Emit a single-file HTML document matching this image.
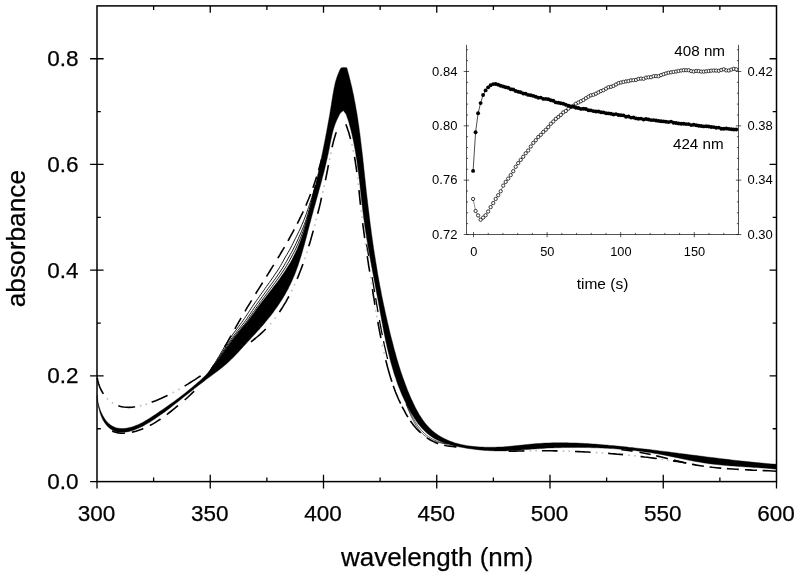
<!DOCTYPE html>
<html lang="en">
<head>
<meta charset="utf-8">
<title>Absorbance spectra</title>
<style>
html,body{margin:0;padding:0;background:#fff;}
body{width:800px;height:577px;overflow:hidden;font-family:"Liberation Sans",Arial,Helvetica,sans-serif;}
svg{display:block;}
</style>
</head>
<body>
<svg width="800" height="577" viewBox="0 0 800 577">
<rect width="800" height="577" fill="#fff"/>
<g id="spectra" fill="none" stroke="#000" stroke-linejoin="round">
<path d="M97.2,395.3L97.4,397.7L97.7,400.2L98.1,402.7L98.7,405.2L99.5,407.7L100.3,410.3L101.4,412.7L102.5,415.1L103.8,417.3L105.2,419.5L106.7,421.4L108.4,423.2L110.2,424.7L112.2,426.1L114.3,427.1L116.5,427.9L118.8,428.3L121.2,428.5L123.6,428.5L126.1,428.3L128.5,427.8L131.0,427.2L133.4,426.5L135.7,425.6L138.1,424.7L140.4,423.6L142.7,422.4L144.9,421.1L147.1,419.8L149.3,418.4L151.5,417.0L153.7,415.6L155.8,414.2L157.9,412.8L160.0,411.3L162.1,409.9L164.2,408.5L166.3,407.0L168.3,405.6L170.4,404.1L172.4,402.7L174.4,401.2L176.4,399.7L178.4,398.2L180.4,396.7L182.3,395.2L184.3,393.7L186.2,392.2L188.2,390.6L190.1,389.0L192.0,387.5L193.9,385.8L195.8,384.2L197.7,382.6L199.6,380.9L201.5,379.2L203.3,377.5L205.1,375.7L206.9,374.0L208.6,372.1L210.3,370.2L211.9,368.3L213.4,366.3L214.9,364.3L216.4,362.3L217.9,360.3L219.3,358.2L220.8,356.2L222.2,354.1L223.7,352.1L225.1,350.0L226.5,348.0L228.0,345.9L229.5,343.9L230.9,341.9L232.4,339.8L234.0,337.8L235.5,335.9L237.1,333.9L238.7,332.0L240.3,330.1L241.9,328.1L243.5,326.2L245.1,324.3L246.7,322.4L248.2,320.4L249.7,318.4L251.2,316.4L252.7,314.4L254.2,312.4L255.6,310.4L257.1,308.3L258.6,306.3L260.1,304.3L261.7,302.3L263.2,300.3L264.8,298.3L266.3,296.3L267.9,294.3L269.4,292.3L271.0,290.3L272.5,288.3L274.0,286.3L275.6,284.3L277.1,282.3L278.6,280.2L280.1,278.2L281.5,276.1L283.0,274.1L284.4,272.0L285.7,269.9L287.1,267.8L288.4,265.7L289.7,263.5L291.0,261.4L292.2,259.2L293.3,257.0L294.4,254.7L295.5,252.5L296.6,250.2L297.6,248.0L298.5,245.7L299.5,243.3L300.4,241.0L301.2,238.7L302.0,236.3L302.9,233.9L303.6,231.6L304.4,229.2L305.1,226.8L305.8,224.3L306.5,221.9L307.2,219.5L307.8,217.1L308.5,214.6L309.1,212.2L309.7,209.7L310.3,207.3L310.9,204.8L311.5,202.4L312.1,199.9L312.6,197.5L313.2,195.0L313.8,192.6L314.3,190.1L314.9,187.7L315.5,185.2L316.0,182.8L316.6,180.3L317.1,177.9L317.6,175.4L318.2,173.0L318.7,170.5L319.2,168.1L319.8,165.6L320.3,163.2L320.8,160.7L321.3,158.3L321.8,155.8L322.3,153.4L322.8,150.9L323.3,148.5L323.8,146.0L324.3,143.6L324.8,141.1L325.3,138.6L325.7,136.2L326.2,133.7L326.7,131.2L327.1,128.8L327.6,126.3L328.0,123.8L328.5,121.3L328.9,118.9L329.4,116.4L329.8,113.9L330.2,111.4L330.6,109.0L331.0,106.5L331.4,104.0L331.8,101.5L332.2,99.0L332.6,96.6L333.0,94.1L333.5,91.6L333.9,89.1L334.4,86.7L334.9,84.3L335.5,81.8L336.2,79.4L337.0,77.1L337.8,74.7L338.8,72.4L339.8,70.1L341.0,67.9L343.7,67.4L346.8,67.8L347.5,70.2L348.1,72.6L348.8,75.0L349.4,77.4L350.0,79.8L350.6,82.3L351.2,84.7L351.8,87.1L352.3,89.6L352.8,92.0L353.4,94.5L353.9,96.9L354.3,99.4L354.8,101.8L355.3,104.3L355.7,106.7L356.1,109.2L356.6,111.6L357.0,114.1L357.4,116.6L357.8,119.1L358.1,121.5L358.5,124.0L358.9,126.5L359.2,129.0L359.5,131.4L359.9,133.9L360.2,136.4L360.5,138.9L360.8,141.4L361.1,143.9L361.4,146.4L361.7,148.9L362.0,151.3L362.3,153.8L362.6,156.3L362.9,158.8L363.1,161.3L363.4,163.8L363.7,166.3L363.9,168.8L364.2,171.3L364.5,173.8L364.7,176.3L365.0,178.8L365.3,181.3L365.5,183.8L365.8,186.3L366.1,188.7L366.3,191.2L366.6,193.7L366.9,196.2L367.2,198.7L367.5,201.2L367.8,203.7L368.1,206.2L368.4,208.7L368.7,211.1L369.0,213.6L369.3,216.1L369.6,218.6L369.9,221.1L370.2,223.6L370.5,226.0L370.9,228.5L371.2,231.0L371.5,233.5L371.9,236.0L372.2,238.4L372.6,240.9L372.9,243.4L373.3,245.9L373.6,248.3L374.0,250.8L374.4,253.3L374.8,255.8L375.2,258.2L375.6,260.7L376.0,263.2L376.4,265.6L376.8,268.1L377.2,270.6L377.6,273.0L378.0,275.5L378.5,278.0L378.9,280.4L379.4,282.9L379.8,285.4L380.3,287.8L380.8,290.3L381.2,292.8L381.7,295.2L382.2,297.7L382.7,300.1L383.2,302.6L383.7,305.0L384.3,307.5L384.8,310.0L385.3,312.4L385.9,314.9L386.4,317.3L387.0,319.7L387.5,322.2L388.1,324.6L388.7,327.1L389.2,329.5L389.8,331.9L390.4,334.4L391.0,336.8L391.6,339.2L392.3,341.6L392.9,344.0L393.5,346.4L394.1,348.8L394.8,351.2L395.5,353.6L396.1,356.0L396.8,358.4L397.5,360.8L398.2,363.2L398.9,365.6L399.7,367.9L400.4,370.3L401.2,372.7L402.0,375.0L402.8,377.4L403.7,379.8L404.5,382.1L405.4,384.5L406.3,386.8L407.2,389.2L408.1,391.5L409.1,393.8L410.1,396.2L411.1,398.5L412.2,400.8L413.3,403.2L414.4,405.5L415.5,407.8L416.7,410.0L418.0,412.3L419.2,414.5L420.6,416.6L422.0,418.7L423.4,420.8L424.9,422.8L426.5,424.7L428.1,426.5L429.8,428.3L431.5,430.0L433.4,431.6L435.3,433.1L437.3,434.5L439.3,435.8L441.4,437.1L443.6,438.2L445.8,439.3L448.0,440.3L450.3,441.3L452.7,442.1L455.0,442.9L457.5,443.6L459.9,444.2L462.3,444.7L464.8,445.2L467.3,445.7L469.8,446.0L472.3,446.3L474.9,446.6L477.4,446.8L479.9,447.0L482.5,447.1L485.0,447.2L487.5,447.2L490.0,447.3L492.5,447.2L495.0,447.2L497.5,447.1L500.0,447.0L502.5,446.9L505.0,446.7L507.5,446.5L510.0,446.3L512.5,446.1L515.0,445.8L517.4,445.6L519.9,445.3L522.4,445.0L524.9,444.7L527.4,444.5L529.9,444.2L532.3,444.0L534.8,443.7L537.3,443.6L539.8,443.4L542.3,443.2L544.8,443.1L547.3,443.0L549.8,442.9L552.3,442.8L554.8,442.8L557.3,442.8L559.8,442.8L562.3,442.8L564.8,442.8L567.3,442.8L569.8,442.9L572.3,442.9L574.8,443.0L577.3,443.1L579.8,443.2L582.3,443.3L584.8,443.5L587.3,443.6L589.8,443.8L592.3,444.0L594.8,444.1L597.3,444.3L599.8,444.5L602.3,444.7L604.8,444.9L607.3,445.1L609.8,445.4L612.3,445.6L614.8,445.8L617.3,446.1L619.8,446.3L622.3,446.6L624.8,446.8L627.3,447.1L629.8,447.4L632.2,447.6L634.7,447.9L637.2,448.2L639.7,448.5L642.2,448.8L644.7,449.1L647.2,449.3L649.7,449.6L652.2,449.9L654.6,450.2L657.1,450.5L659.6,450.9L662.1,451.2L664.6,451.5L667.1,451.8L669.5,452.1L672.0,452.4L674.5,452.7L677.0,453.1L679.5,453.4L682.0,453.7L684.4,454.0L686.9,454.3L689.4,454.7L691.9,455.0L694.4,455.3L696.9,455.6L699.3,455.9L701.8,456.2L704.3,456.6L706.8,456.9L709.3,457.2L711.8,457.5L714.2,457.8L716.7,458.1L719.2,458.4L721.7,458.7L724.2,459.0L726.7,459.3L729.2,459.6L731.6,459.9L734.1,460.2L736.6,460.5L739.1,460.7L741.6,461.0L744.1,461.3L746.6,461.5L749.1,461.8L751.6,462.1L754.1,462.3L756.5,462.6L759.0,462.8L761.5,463.0L764.0,463.3L766.5,463.5L769.0,463.7L771.5,463.9L774.0,464.1L776.5,464.3L776.5,469.2L774.0,468.9L771.5,468.7L769.0,468.5L766.5,468.3L764.0,468.1L761.5,467.9L759.0,467.7L756.5,467.5L754.0,467.4L751.5,467.2L749.0,467.1L746.5,466.9L744.0,466.8L741.5,466.6L739.0,466.4L736.5,466.3L734.0,466.1L731.5,465.9L729.0,465.7L726.5,465.5L724.0,465.3L721.5,465.1L719.0,464.8L716.5,464.6L714.0,464.3L711.5,464.0L709.1,463.7L706.6,463.3L704.1,462.9L701.6,462.5L699.2,462.1L696.7,461.7L694.2,461.2L691.8,460.8L689.3,460.3L686.9,459.8L684.4,459.3L682.0,458.8L679.5,458.2L677.1,457.7L674.6,457.2L672.1,456.7L669.7,456.2L667.2,455.7L664.8,455.2L662.3,454.7L659.9,454.3L657.4,453.8L654.9,453.4L652.5,453.0L650.0,452.6L647.5,452.3L645.0,451.9L642.6,451.6L640.1,451.2L637.6,450.9L635.1,450.6L632.6,450.4L630.1,450.1L627.6,449.9L625.2,449.6L622.7,449.4L620.2,449.2L617.7,449.0L615.2,448.8L612.7,448.6L610.2,448.5L607.7,448.3L605.2,448.2L602.7,448.1L600.2,447.9L597.7,447.8L595.1,447.8L592.6,447.7L590.1,447.6L587.6,447.6L585.1,447.5L582.6,447.5L580.1,447.4L577.6,447.4L575.1,447.4L572.6,447.4L570.1,447.5L567.6,447.5L565.1,447.5L562.5,447.6L560.0,447.7L557.5,447.7L555.0,447.8L552.5,447.9L550.0,448.0L547.5,448.1L545.0,448.3L542.5,448.4L540.0,448.6L537.5,448.7L535.0,448.9L532.6,449.1L530.1,449.3L527.6,449.4L525.1,449.6L522.6,449.8L520.1,450.0L517.6,450.2L515.1,450.4L512.7,450.5L510.2,450.7L507.7,450.8L505.2,450.9L502.7,450.9L500.2,450.9L497.7,450.9L495.2,450.9L492.7,450.8L490.2,450.7L487.7,450.6L485.2,450.4L482.7,450.2L480.2,450.0L477.7,449.7L475.2,449.4L472.7,449.1L470.2,448.8L467.7,448.4L465.2,448.0L462.7,447.5L460.1,447.1L457.6,446.6L455.1,446.0L452.6,445.4L450.2,444.8L447.7,444.1L445.3,443.3L442.9,442.4L440.6,441.5L438.4,440.5L436.1,439.4L434.0,438.2L431.9,436.9L429.9,435.6L428.0,434.1L426.2,432.5L424.4,430.8L422.7,429.0L421.0,427.2L419.5,425.3L417.9,423.4L416.4,421.3L415.0,419.3L413.7,417.2L412.3,415.0L411.0,412.9L409.8,410.7L408.6,408.5L407.4,406.3L406.3,404.0L405.2,401.8L404.1,399.5L403.1,397.2L402.0,394.9L401.1,392.7L400.1,390.3L399.2,388.0L398.3,385.7L397.4,383.4L396.6,381.0L395.8,378.6L395.0,376.3L394.2,373.9L393.5,371.5L392.8,369.1L392.1,366.7L391.4,364.3L390.7,361.9L390.1,359.5L389.5,357.0L388.9,354.6L388.3,352.2L387.7,349.7L387.1,347.3L386.6,344.8L386.0,342.4L385.5,339.9L385.0,337.4L384.5,335.0L384.0,332.5L383.5,330.0L383.0,327.5L382.6,325.1L382.1,322.6L381.6,320.1L381.2,317.6L380.7,315.1L380.3,312.7L379.8,310.2L379.4,307.7L378.9,305.2L378.5,302.8L378.0,300.3L377.6,297.8L377.1,295.4L376.6,292.9L376.2,290.4L375.7,288.0L375.2,285.5L374.8,283.0L374.3,280.6L373.8,278.1L373.4,275.7L372.9,273.2L372.4,270.8L372.0,268.3L371.5,265.9L371.1,263.4L370.6,261.0L370.2,258.5L369.7,256.0L369.3,253.6L368.8,251.1L368.4,248.7L368.0,246.2L367.6,243.8L367.2,241.3L366.7,238.8L366.4,236.4L366.0,233.9L365.6,231.4L365.2,229.0L364.8,226.5L364.5,224.0L364.2,221.6L363.8,219.1L363.5,216.6L363.2,214.1L362.9,211.6L362.6,209.1L362.3,206.6L362.0,204.1L361.7,201.6L361.4,199.1L361.2,196.6L360.9,194.1L360.6,191.6L360.3,189.1L360.1,186.6L359.8,184.1L359.5,181.6L359.2,179.1L358.9,176.6L358.6,174.1L358.3,171.6L358.0,169.2L357.6,166.7L357.3,164.2L357.0,161.7L356.6,159.2L356.2,156.7L355.8,154.3L355.4,151.8L355.0,149.3L354.5,146.9L354.1,144.4L353.6,142.0L353.1,139.5L352.5,137.1L352.0,134.6L351.4,132.2L350.8,129.8L350.2,127.4L349.5,125.0L348.9,122.5L348.2,120.2L346.0,114.0L343.2,110.5L340.0,113.5L336.8,120.1L335.8,122.5L334.9,124.8L334.1,127.2L333.4,129.6L332.7,132.0L332.1,134.5L331.6,136.9L331.0,139.4L330.5,141.9L330.0,144.3L329.6,146.8L329.1,149.3L328.6,151.8L328.1,154.2L327.5,156.7L327.0,159.2L326.4,161.6L325.9,164.1L325.3,166.5L324.7,168.9L324.1,171.4L323.5,173.8L322.8,176.2L322.2,178.6L321.6,181.1L320.9,183.5L320.3,185.9L319.6,188.3L318.9,190.7L318.3,193.1L317.6,195.6L316.9,198.0L316.2,200.4L315.6,202.8L314.9,205.2L314.2,207.6L313.5,210.0L312.9,212.5L312.2,214.9L311.6,217.3L310.9,219.8L310.3,222.2L309.6,224.6L309.0,227.1L308.3,229.5L307.7,232.0L307.1,234.4L306.4,236.9L305.8,239.3L305.1,241.7L304.5,244.2L303.8,246.6L303.1,249.0L302.4,251.5L301.7,253.9L301.0,256.3L300.2,258.7L299.5,261.1L298.7,263.5L297.9,265.9L297.0,268.2L296.2,270.6L295.3,272.9L294.4,275.2L293.4,277.5L292.4,279.8L291.4,282.1L290.3,284.4L289.2,286.6L288.1,288.9L286.9,291.1L285.7,293.2L284.5,295.4L283.2,297.6L281.9,299.7L280.5,301.8L279.1,303.9L277.7,306.0L276.3,308.1L274.8,310.1L273.3,312.2L271.8,314.2L270.3,316.2L268.7,318.1L267.1,320.1L265.5,322.0L263.9,324.0L262.2,325.9L260.6,327.8L258.9,329.7L257.2,331.5L255.5,333.4L253.8,335.3L252.1,337.1L250.4,339.0L248.7,340.8L247.0,342.6L245.3,344.5L243.6,346.3L241.9,348.2L240.2,350.0L238.5,351.9L236.8,353.7L235.1,355.5L233.4,357.3L231.6,359.1L229.8,360.8L228.0,362.5L226.1,364.2L224.2,365.8L222.2,367.4L220.3,369.0L218.3,370.5L216.3,372.1L214.2,373.6L212.2,375.1L210.2,376.6L208.1,378.1L206.1,379.6L204.1,381.2L202.1,382.7L200.1,384.2L198.1,385.7L196.1,387.3L194.2,388.8L192.2,390.4L190.3,391.9L188.3,393.5L186.4,395.0L184.4,396.6L182.5,398.1L180.5,399.7L178.6,401.2L176.6,402.8L174.6,404.3L172.7,405.8L170.7,407.4L168.7,408.9L166.7,410.4L164.7,411.9L162.6,413.4L160.6,414.8L158.5,416.3L156.4,417.7L154.3,419.2L152.1,420.6L150.0,422.0L147.8,423.3L145.5,424.6L143.3,425.9L141.0,427.0L138.7,428.1L136.4,429.1L134.0,430.0L131.6,430.7L129.2,431.4L126.7,431.9L124.2,432.2L121.8,432.3L119.3,432.2L117.0,431.9L114.7,431.2L112.6,430.3L110.6,429.0L108.7,427.5L107.0,425.8L105.4,423.8L104.0,421.7L102.7,419.4L101.6,417.0L100.6,414.5L99.8,411.9L99.1,409.3L98.4,406.8L97.9,404.3L97.5,402.0L97.1,399.7Z" fill="#000" stroke="#000" stroke-width="0.4"/>
<path d="M210.0,370.2L211.4,368.3L212.7,366.3L214.0,364.3L215.3,362.3L216.5,360.3L217.7,358.2L219.0,356.2L220.2,354.1L221.4,352.1L222.6,350.0L223.8,348.0L225.0,345.9L226.3,343.9L227.6,341.9L229.0,339.8L230.3,337.8L231.7,335.9L233.1,333.9L234.5,332.0L236.0,330.1L237.5,328.1L238.9,326.2L240.3,324.3L241.7,322.4L243.1,320.4L244.5,318.4L245.8,316.4L247.2,314.4L248.5,312.4L249.8,310.4L251.2,308.3L252.5,306.3L253.9,304.3L255.3,302.3L256.7,300.3L258.1,298.3L259.5,296.3L260.9,294.3L262.4,292.3L263.8,290.3L265.2,288.3L266.6,286.3L268.0,284.3L269.5,282.3L271.0,280.2L272.4,278.2L273.8,276.1L275.2,274.1L276.6,272.0L278.0,269.9L279.3,267.8L280.6,265.7L281.8,263.5L283.0,261.4L284.2,259.2L285.4,257.0L286.8,254.7L288.1,252.5L289.4,250.2L290.6,248.0L291.8,245.7L293.0,243.3L294.1,241.0L295.3,238.7L296.5,236.3L297.7,233.9L298.8,231.6L300.0,229.2L301.1,226.8L302.1,224.3L303.2,221.9L304.2,219.5L305.1,217.1L306.0,214.6L306.9,212.2L307.7,209.7L308.6,207.3L309.4,204.8L310.2,202.4L311.1,199.9L311.8,197.5L312.5,195.0L313.3,192.6L314.0,190.1L314.7,187.7L315.4,185.2" stroke-width="0.9"/>
<path d="M210.2,370.2L211.6,368.3L213.1,366.3L214.5,364.3L215.9,362.3L217.2,360.3L218.5,358.2L219.9,356.2L221.2,354.1L222.5,352.1L223.8,350.0L225.2,348.0L226.5,345.9L227.9,343.9L229.3,341.9L230.7,339.8L232.1,337.8L233.6,335.9L235.1,333.9L236.6,332.0L238.1,330.1L239.7,328.1L241.2,326.2L242.7,324.3L244.2,322.4L245.7,320.4L247.1,318.4L248.4,316.4L249.8,314.4L251.2,312.4L252.5,310.4L253.9,308.3L255.3,306.3L256.7,304.3L258.2,302.3L259.6,300.3L261.0,298.3L262.5,296.3L263.9,294.3L265.4,292.3L266.8,290.3L268.3,288.3L269.7,286.3L271.2,284.3L272.7,282.3L274.2,280.2L275.7,278.2L277.1,276.1L278.5,274.1L279.9,272.0L281.3,269.9L282.7,267.8L284.0,265.7L285.2,263.5L286.5,261.4L287.7,259.2L288.9,257.0L290.2,254.7L291.5,252.5L292.7,250.2L293.8,248.0L295.0,245.7L296.1,243.3L297.2,241.0L298.3,238.7L299.3,236.3L300.4,233.9L301.4,231.6L302.4,229.2L303.4,226.8L304.4,224.3L305.3,221.9L306.2,219.5L306.9,217.1L307.7,214.6L308.4,212.2L309.1,209.7L309.8,207.3L310.5,204.8L311.2,202.4L311.9,199.9L312.5,197.5L313.1,195.0L313.7,192.6L314.3,190.1L314.9,187.7L315.4,185.2" stroke-width="0.9"/>
<path d="M210.3,370.2L211.8,368.3L213.4,366.3L214.9,364.3L216.3,362.3L217.7,360.3L219.2,358.2L220.6,356.2L222.0,354.1L223.4,352.1L224.8,350.0L226.2,348.0L227.7,345.9L229.1,343.9L230.5,341.9L232.0,339.8L233.5,337.8L235.0,335.9L236.6,333.9L238.1,332.0L239.7,330.1L241.3,328.1L242.9,326.2L244.5,324.3L246.0,322.4L247.5,320.4L248.9,318.4L250.3,316.4L251.7,314.4L253.1,312.4L254.6,310.4L256.0,308.3L257.4,306.3L258.9,304.3L260.3,302.3L261.8,300.3L263.3,298.3L264.8,296.3L266.3,294.3L267.8,292.3L269.2,290.3L270.7,288.3L272.2,286.3L273.7,284.3L275.2,282.3L276.7,280.2L278.2,278.2L279.6,276.1L281.0,274.1L282.4,272.0L283.8,269.9L285.2,267.8L286.5,265.7L287.7,263.5L289.0,261.4L290.2,259.2L291.4,257.0L292.6,254.7L293.8,252.5L295.0,250.2L296.1,248.0L297.1,245.7L298.2,243.3L299.2,241.0L300.2,238.7L301.1,236.3L302.0,233.9L302.9,231.6L303.8,229.2L304.6,226.8L305.4,224.3L306.2,221.9L307.0,219.5L307.7,217.1L308.3,214.6L309.0,212.2L309.6,209.7L310.2,207.3L310.8,204.8L311.4,202.4L312.1,199.9L312.6,197.5L313.2,195.0L313.8,192.6L314.3,190.1L314.9,187.7L315.5,185.2" stroke-width="0.9"/>
<path d="M406.2,404.0L407.2,406.4L408.3,408.7L409.4,411.0L410.5,413.3L411.6,415.6L412.8,417.8L414.1,420.0L415.4,422.1L416.7,424.2L418.2,426.3L419.7,428.2L421.2,430.1L422.9,431.9L424.7,433.6L426.5,435.2L428.5,436.7L430.5,438.0L432.7,439.2L435.0,440.3L437.3,441.3L439.8,442.1L442.4,442.9L445.0,443.5L447.7,444.1" stroke-width="0.6"/>
<path d="M406.2,404.1L407.1,406.5L408.0,408.9L409.0,411.3L410.0,413.6L411.0,416.0L412.1,418.3L413.3,420.6L414.5,422.8L415.7,425.0L417.1,427.1L418.5,429.1L420.0,431.0L421.7,432.9L423.4,434.6L425.2,436.1L427.2,437.6L429.3,438.9L431.6,440.1L434.0,441.1L436.5,441.9L439.2,442.6L441.9,443.2L444.7,443.7L447.7,444.1" stroke-width="0.6"/>
<path d="M97.1,399.9L97.5,402.5L98.1,405.4L98.8,408.4L99.6,411.5L100.6,414.7L101.7,417.8L103.0,420.8L104.6,423.6L106.3,426.2L108.3,428.3L110.5,430.1L112.9,431.4L115.5,432.3L118.3,432.9L121.2,433.2L124.1,433.2L127.1,433.0L130.1,432.5L133.0,431.9L135.9,431.2L138.8,430.3L141.6,429.3L144.4,428.1L147.2,426.9L149.8,425.5L152.5,424.1L155.1,422.6L157.7,420.9L160.3,419.3L162.8,417.5L165.2,415.7L167.7,413.9L170.1,412.0L172.5,410.1L174.9,408.2L177.3,406.2L179.6,404.3L181.9,402.4L184.2,400.4L186.4,398.5L188.6,396.5L190.8,394.4L192.9,392.4L195.0,390.3L197.1,388.1L199.0,385.9L201.0,383.7L202.8,381.3L204.7,378.9L206.4,376.5L208.2,374.0L209.8,371.5L211.5,369.0L213.1,366.4L214.7,363.8L216.3,361.2L217.9,358.6L219.4,356.0L220.9,353.4L222.5,350.8L224.0,348.1L225.5,345.5L227.0,342.9L228.4,340.3L229.9,337.7L231.4,335.0L232.9,332.4L234.4,329.8L235.8,327.2L237.3,324.6L238.8,321.9L240.3,319.3L241.8,316.7L243.3,314.1L244.9,311.5L246.4,308.9L247.9,306.4L249.5,303.8L251.1,301.2L252.6,298.6L254.2,296.1L255.8,293.5L257.4,290.9L259.0,288.4L260.6,285.8L262.2,283.3L263.8,280.7L265.4,278.2L267.0,275.6L268.6,273.1L270.2,270.5L271.8,267.9L273.4,265.4L275.0,262.8L276.5,260.2L278.1,257.7L279.7,255.1L281.2,252.5L282.8,249.9L284.3,247.3L285.8,244.7L287.3,242.1L288.8,239.5L290.2,236.9L291.7,234.2L293.1,231.6L294.5,228.9L295.9,226.3L297.3,223.6L298.7,220.9L300.0,218.2L301.3,215.5L302.6,212.8L303.8,210.1L305.1,207.3L306.3,204.6L307.4,201.8L308.6,199.0L309.7,196.2L310.8,193.4L311.9,190.6L312.9,187.8L313.9,185.0L314.9,182.1L315.8,179.3L316.8,176.4L317.6,173.6L318.5,170.7L319.3,167.8L320.1,164.9L320.9,161.9L321.6,159.0L322.3,156.1L323.0,153.2L323.7,150.2L324.4,147.3L325.0,144.3L325.7,141.4L326.3,138.4L326.9,135.5L327.5,132.5L328.1,129.5L328.7,126.6L329.3,123.6L329.9,120.6L330.4,117.7L331.0,114.7L331.6,111.8L332.2,108.8L332.8,105.9L333.4,102.9L334.0,100.0" stroke-width="1.6" stroke-dasharray="0.0 35.8 13.0 7.1 12.0 7.2 12.6 7.6 14.3 8.8 12.9 14.9 18.0 20.9 13.2 7.8 12.4 7.8 12.7 7.8 13.2 7.2 13.6 7.9 12.9 7.1 13.1 6.5 13.7 6.4 12.5 6.6 11.8 6.7 11.1 110.8"/>
<path d="M366.5,244.1L367.0,247.0L367.5,249.9L368.1,252.9L368.6,255.8L369.1,258.8L369.6,261.7L370.1,264.7L370.6,267.6L371.1,270.6L371.6,273.5L372.0,276.5L372.5,279.5L373.0,282.4L373.5,285.4L374.0,288.3L374.5,291.3L375.0,294.2L375.5,297.2L376.0,300.2L376.5,303.1L377.0,306.1L377.5,309.0L378.0,312.0L378.5,314.9L379.0,317.9L379.6,320.8L380.1,323.8L380.7,326.7L381.2,329.7L381.8,332.6L382.4,335.6L383.0,338.5L383.6,341.4L384.2,344.4L384.9,347.3L385.5,350.2L386.2,353.2L386.9,356.1L387.6,359.0" stroke-width="1.3" stroke-dasharray="12.0 21.5 15.2 6.0 14.2 8.1 15.4 6.1 18.4 50.0"/>
<path d="M610.0,448.9L614.0,449.1L618.0,449.4L622.0,449.8L626.0,450.2L630.0,450.7L633.9,451.3L637.9,452.0L641.8,452.7L645.8,453.5L649.7,454.3L653.6,455.2L657.5,456.1L661.4,457.0L665.3,458.0L669.2,459.0L673.1,459.9L677.0,460.9L680.9,461.8L684.8,462.7L688.7,463.6L692.7,464.4L696.6,465.1L700.5,465.7L704.5,466.3L708.5,466.8L712.4,467.3L716.4,467.7L720.4,468.1L724.4,468.4L728.4,468.7L732.4,469.0L736.4,469.3L740.4,469.5L744.4,469.7L748.4,469.9L752.4,470.1L756.5,470.2L760.5,470.4L764.5,470.6L768.5,470.8L772.5,471.0L776.5,471.2" stroke-width="1.6" stroke-dasharray="0.0 11.4 11.3 7.0 11.4 5.7 12.0 6.3 12.7 5.8 12.0 5.7 11.8 5.7 11.9 6.2 12.0 5.6 14.0 50.0"/>
<path d="M97.2,377.6L97.8,380.7L98.6,383.7L99.6,386.6L100.9,389.5L102.4,392.3L104.1,394.9L106.0,397.3L108.0,399.5L110.3,401.4L112.7,403.1L115.2,404.5L117.8,405.6L120.6,406.5L123.4,407.0L126.2,407.3L129.1,407.4L132.1,407.2L135.0,406.8L138.0,406.3L141.0,405.6L144.0,404.8L147.0,403.9L149.9,402.9L152.8,401.8L155.7,400.7L158.6,399.5L161.4,398.3L164.1,397.0L166.9,395.7L169.6,394.4L172.2,393.0L174.9,391.6L177.5,390.1L180.1,388.7L182.7,387.1L185.3,385.6L187.8,384.1L190.3,382.5L192.9,380.9L195.4,379.3L197.9,377.6L200.4,376.0L202.9,374.3L205.4,372.7L207.8,371.0L210.3,369.3L212.8,367.6L215.3,365.9L217.8,364.3L220.3,362.6L222.9,360.9L225.4,359.3L228.0,357.6L230.5,356.0L233.0,354.3L235.6,352.6L238.1,350.9L240.6,349.2L243.1,347.5L245.6,345.8L248.1,344.0L250.5,342.2L252.9,340.3L255.2,338.5L257.6,336.5L259.8,334.6L262.0,332.6L264.2,330.5L266.3,328.4L268.4,326.2L270.4,323.9L272.3,321.6L274.2,319.3L276.0,316.9L277.8,314.5L279.5,312.0L281.1,309.5L282.8,306.9L284.3,304.4L285.9,301.8L287.3,299.1L288.8,296.5L290.2,293.8L291.5,291.1L292.8,288.4L294.1,285.7L295.4,282.9L296.6,280.1L297.8,277.4L298.9,274.6L300.0,271.8L301.1,269.0L302.2,266.1L303.2,263.3L304.2,260.5L305.2,257.6L306.1,254.7L307.0,251.9L307.9,249.0L308.8,246.1L309.7,243.2L310.6,240.3L311.4,237.4L312.2,234.5L313.0,231.6L313.8,228.7L314.6,225.8L315.4,222.9L316.1,220.0L316.9,217.1L317.6,214.1L318.3,211.2L319.1,208.3L319.8,205.4L320.5,202.5L321.1,199.5L321.8,196.6L322.5,193.7L323.1,190.7L323.8,187.8L324.4,184.8L325.0,181.9L325.7,179.0L326.3,176.0L326.9,173.0L327.5,170.1L328.0,167.1L328.6,164.1L329.2,161.2L329.8,158.2L330.4,155.2L331.0,152.2L331.6,149.3L332.3,146.3L333.0,143.4L333.7,140.5L334.6,137.6L335.4,134.7L336.4,131.9L337.5,129.1L338.6,126.4L339.9,123.6L341.2,121.0L342.7,118.3" stroke-width="1.6" stroke-dasharray="0.0 0.2 17.3 19.5 17.0 17.2 17.3 19.5 19.0 60.7 19.6 21.8 18.3 19.4 15.9 18.7 16.3 17.4 16.5 17.9 15.5 18.2 15.6 65.3"/>
<path d="M97.2,377.6L97.8,380.7L98.6,383.7L99.6,386.6L100.9,389.5L102.4,392.3L104.1,394.9L106.0,397.3L108.0,399.5L110.3,401.4L112.7,403.1L115.2,404.5L117.8,405.6L120.6,406.5L123.4,407.0L126.2,407.3L129.1,407.4L132.1,407.2L135.0,406.8L138.0,406.3L141.0,405.6L144.0,404.8L147.0,403.9L149.9,402.9L152.8,401.8L155.7,400.7L158.6,399.5L161.4,398.3L164.1,397.0L166.9,395.7L169.6,394.4L172.2,393.0L174.9,391.6L177.5,390.1L180.1,388.7L182.7,387.1L185.3,385.6L187.8,384.1L190.3,382.5L192.9,380.9L195.4,379.3L197.9,377.6L200.4,376.0L202.9,374.3L205.4,372.7L207.8,371.0L210.3,369.3L212.8,367.6L215.3,365.9L217.8,364.3L220.3,362.6L222.9,360.9L225.4,359.3L228.0,357.6L230.5,356.0L233.0,354.3L235.6,352.6L238.1,350.9L240.6,349.2L243.1,347.5L245.6,345.8L248.1,344.0L250.5,342.2L252.9,340.3L255.2,338.5L257.6,336.5L259.8,334.6L262.0,332.6L264.2,330.5L266.3,328.4L268.4,326.2L270.4,323.9L272.3,321.6L274.2,319.3L276.0,316.9L277.8,314.5L279.5,312.0L281.1,309.5L282.8,306.9L284.3,304.4L285.9,301.8L287.3,299.1L288.8,296.5L290.2,293.8L291.5,291.1L292.8,288.4L294.1,285.7L295.4,282.9L296.6,280.1L297.8,277.4L298.9,274.6L300.0,271.8L301.1,269.0L302.2,266.1L303.2,263.3L304.2,260.5L305.2,257.6L306.1,254.7L307.0,251.9L307.9,249.0L308.8,246.1L309.7,243.2L310.6,240.3L311.4,237.4L312.2,234.5L313.0,231.6L313.8,228.7L314.6,225.8L315.4,222.9L316.1,220.0L316.9,217.1L317.6,214.1L318.3,211.2L319.1,208.3L319.8,205.4L320.5,202.5L321.1,199.5L321.8,196.6L322.5,193.7L323.1,190.7L323.8,187.8L324.4,184.8L325.0,181.9L325.7,179.0L326.3,176.0L326.9,173.0L327.5,170.1L328.0,167.1L328.6,164.1L329.2,161.2L329.8,158.2L330.4,155.2L331.0,152.2L331.6,149.3L332.3,146.3L333.0,143.4L333.7,140.5L334.6,137.6L335.4,134.7L336.4,131.9L337.5,129.1L338.6,126.4L339.9,123.6L341.2,121.0L342.7,118.3" stroke="#bcbcbc" stroke-width="1.6" stroke-dasharray="0.0 23.2 1.6 4.9 1.6 27.6 1.6 4.1 1.6 27.9 1.6 4.9 1.6 111.5 1.6 5.7 1.6 30.4 1.6 4.9 1.6 27.0 1.6 4.6 1.6 26.7 1.6 4.2 1.6 26.7 1.6 4.4 1.6 25.9 1.6 4.5 1.6 86.2"/>
<path d="M343.5,118.3L344.6,121.1L345.7,123.9L346.8,126.7L347.7,129.5L348.7,132.3L349.5,135.2L350.3,138.1L351.1,141.0L351.8,143.9L352.5,146.8L353.1,149.7L353.7,152.6L354.3,155.6L354.8,158.5L355.3,161.5L355.7,164.4L356.2,167.4L356.6,170.4L357.0,173.4L357.4,176.3L357.7,179.3L358.1,182.3L358.4,185.3L358.7,188.3L359.1,191.3L359.4,194.3L359.7,197.3L360.0,200.3L360.3,203.3L360.7,206.3L361.0,209.3L361.4,212.3L361.7,215.3L362.1,218.3L362.5,221.2L362.8,224.2L363.2,227.2L363.6,230.2L364.0,233.2L364.4,236.1L364.8,239.1L365.2,242.1L365.7,245.0L366.1,248.0L366.5,251.0L367.0,254.0L367.4,256.9L367.8,259.9L368.3,262.8L368.7,265.8L369.2,268.8L369.7,271.7L370.1,274.7L370.6,277.7L371.0,280.6L371.5,283.6L372.0,286.6L372.5,289.5L372.9,292.5L373.4,295.5L373.9,298.4L374.4,301.4L374.8,304.4L375.3,307.3L375.8,310.3L376.3,313.3L376.8,316.2L377.4,319.2L377.9,322.2L378.4,325.1L379.0,328.1L379.5,331.0L380.1,334.0L380.7,336.9L381.3,339.9L381.9,342.8L382.5,345.8L383.1,348.7L383.8,351.6L384.4,354.5L385.1,357.5L385.8,360.4L386.6,363.3L387.3,366.2L388.1,369.1L388.9,372.0L389.7,374.8L390.6,377.7L391.5,380.5L392.4,383.4L393.4,386.2L394.4,389.0L395.4,391.8L396.6,394.6L397.7,397.3L398.9,400.0L400.2,402.7L401.5,405.4L402.9,408.1L404.3,410.7L405.7,413.4L407.2,416.0L408.8,418.5L410.5,421.1L412.3,423.5L414.2,425.9L416.1,428.2L418.2,430.4L420.3,432.5L422.6,434.5L424.9,436.4L427.3,438.1L429.8,439.7L432.4,441.1L435.1,442.4L437.8,443.5L440.7,444.3L443.6,445.1L446.5,445.7L449.5,446.1L452.6,446.5L455.6,446.9L458.6,447.3L461.6,447.7L464.7,448.1L467.7,448.4L470.6,448.8L473.6,449.2L476.6,449.5L479.6,449.8L482.5,450.1L485.5,450.4L488.5,450.7L491.5,450.9L494.4,451.0L497.4,451.1L500.4,451.2L503.4,451.2L506.4,451.2L509.4,451.2L512.4,451.2L515.4,451.1L518.4,451.0L521.4,451.0L524.5,450.9L527.5,450.9L530.5,450.8L533.5,450.8L536.5,450.8L539.5,450.8L542.5,450.8L545.5,450.8L548.5,450.8L551.5,450.8L554.5,450.9L557.5,450.9L560.6,451.0L563.6,451.1L566.6,451.1L569.6,451.2L572.6,451.3L575.6,451.5L578.6,451.6L581.6,451.7L584.6,451.9L587.6,452.0L590.6,452.2L593.6,452.4L596.6,452.6L599.6,452.8L602.6,453.0L605.6,453.2L608.6,453.4L611.6,453.7L614.5,453.9L617.5,454.2L620.5,454.4L623.5,454.7L626.5,455.0L629.5,455.3L632.5,455.6L635.5,455.9L638.5,456.3L641.4,456.6L644.4,457.0L647.4,457.3L650.4,457.7L653.4,458.1L656.3,458.5L659.3,458.9L662.3,459.3L665.3,459.7L668.2,460.2L671.2,460.6L674.2,461.1L677.1,461.5L680.1,462.0L683.1,462.5L686.0,463.0" stroke-width="1.6" stroke-dasharray="0.0 6.4 15.4 18.5 15.3 18.2 14.7 18.5 15.2 18.0 15.8 17.6 16.1 17.3 16.3 22.7 22.4 4.4 19.2 3.3 12.1 4.4 16.0 8.0 12.6 6.2 12.4 52.5 15.7 17.5 15.6 17.5 15.6 17.6 15.0 17.5 16.5 16.3 13.2 50.0"/>
<path d="M343.5,118.3L344.6,121.1L345.7,123.9L346.8,126.7L347.7,129.5L348.7,132.3L349.5,135.2L350.3,138.1L351.1,141.0L351.8,143.9L352.5,146.8L353.1,149.7L353.7,152.6L354.3,155.6L354.8,158.5L355.3,161.5L355.7,164.4L356.2,167.4L356.6,170.4L357.0,173.4L357.4,176.3L357.7,179.3L358.1,182.3L358.4,185.3L358.7,188.3L359.1,191.3L359.4,194.3L359.7,197.3L360.0,200.3L360.3,203.3L360.7,206.3L361.0,209.3L361.4,212.3L361.7,215.3L362.1,218.3L362.5,221.2L362.8,224.2L363.2,227.2L363.6,230.2L364.0,233.2L364.4,236.1L364.8,239.1L365.2,242.1L365.7,245.0L366.1,248.0L366.5,251.0L367.0,254.0L367.4,256.9L367.8,259.9L368.3,262.8L368.7,265.8L369.2,268.8L369.7,271.7L370.1,274.7L370.6,277.7L371.0,280.6L371.5,283.6L372.0,286.6L372.5,289.5L372.9,292.5L373.4,295.5L373.9,298.4L374.4,301.4L374.8,304.4L375.3,307.3L375.8,310.3L376.3,313.3L376.8,316.2L377.4,319.2L377.9,322.2L378.4,325.1L379.0,328.1L379.5,331.0L380.1,334.0L380.7,336.9L381.3,339.9L381.9,342.8L382.5,345.8L383.1,348.7L383.8,351.6L384.4,354.5L385.1,357.5L385.8,360.4L386.6,363.3L387.3,366.2L388.1,369.1L388.9,372.0L389.7,374.8L390.6,377.7L391.5,380.5L392.4,383.4L393.4,386.2L394.4,389.0L395.4,391.8L396.6,394.6L397.7,397.3L398.9,400.0L400.2,402.7L401.5,405.4L402.9,408.1L404.3,410.7L405.7,413.4L407.2,416.0L408.8,418.5L410.5,421.1L412.3,423.5L414.2,425.9L416.1,428.2L418.2,430.4L420.3,432.5L422.6,434.5L424.9,436.4L427.3,438.1L429.8,439.7L432.4,441.1L435.1,442.4L437.8,443.5L440.7,444.3L443.6,445.1L446.5,445.7L449.5,446.1L452.6,446.5L455.6,446.9L458.6,447.3L461.6,447.7L464.7,448.1L467.7,448.4L470.6,448.8L473.6,449.2L476.6,449.5L479.6,449.8L482.5,450.1L485.5,450.4L488.5,450.7L491.5,450.9L494.4,451.0L497.4,451.1L500.4,451.2L503.4,451.2L506.4,451.2L509.4,451.2L512.4,451.2L515.4,451.1L518.4,451.0L521.4,451.0L524.5,450.9L527.5,450.9L530.5,450.8L533.5,450.8L536.5,450.8L539.5,450.8L542.5,450.8L545.5,450.8L548.5,450.8L551.5,450.8L554.5,450.9L557.5,450.9L560.6,451.0L563.6,451.1L566.6,451.1L569.6,451.2L572.6,451.3L575.6,451.5L578.6,451.6L581.6,451.7L584.6,451.9L587.6,452.0L590.6,452.2L593.6,452.4L596.6,452.6L599.6,452.8L602.6,453.0L605.6,453.2L608.6,453.4L611.6,453.7L614.5,453.9L617.5,454.2L620.5,454.4L623.5,454.7L626.5,455.0L629.5,455.3L632.5,455.6L635.5,455.9L638.5,456.3L641.4,456.6L644.4,457.0L647.4,457.3L650.4,457.7L653.4,458.1L656.3,458.5L659.3,458.9L662.3,459.3L665.3,459.7L668.2,460.2L671.2,460.6L674.2,461.1L677.1,461.5L680.1,462.0L683.1,462.5L686.0,463.0" stroke="#bcbcbc" stroke-width="1.6" stroke-dasharray="0.0 27.2 1.6 4.6 1.6 25.9 1.6 4.5 1.6 25.3 1.6 4.6 1.6 25.8 1.6 4.4 1.6 26.1 1.6 4.3 1.6 26.1 1.6 4.2 1.6 28.0 1.6 6.0 1.6 201.0 1.6 4.2 1.6 25.7 1.6 4.2 1.6 25.7 1.6 4.3 1.6 25.1 1.6 4.2 1.6 26.2 1.6 3.8 1.6 67.8"/>
</g>
<g id="axes" stroke="#000" stroke-width="1.5" fill="none" stroke-linecap="butt">
<rect x="97.00" y="5.90" width="679.50" height="475.70"/>
<path d="M97.00,481.60V488.40M153.62,477.60V481.60M153.62,5.90V9.90M210.25,474.80V488.40M210.25,5.90V12.70M266.88,477.60V481.60M266.88,5.90V9.90M323.50,474.80V488.40M323.50,5.90V12.70M380.12,477.60V481.60M380.12,5.90V9.90M436.75,474.80V488.40M436.75,5.90V12.70M493.38,477.60V481.60M493.38,5.90V9.90M550.00,474.80V488.40M550.00,5.90V12.70M606.62,477.60V481.60M606.62,5.90V9.90M663.25,474.80V488.40M663.25,5.90V12.70M719.88,477.60V481.60M719.88,5.90V9.90M776.50,481.60V488.40M90.10,481.60H97.00M97.00,428.74H100.80M772.70,428.74H776.50M90.10,375.89H103.60M769.60,375.89H776.50M97.00,323.03H100.80M772.70,323.03H776.50M90.10,270.18H103.60M769.60,270.18H776.50M97.00,217.32H100.80M772.70,217.32H776.50M90.10,164.47H103.60M769.60,164.47H776.50M97.00,111.61H100.80M772.70,111.61H776.50M90.10,58.76H103.60M769.60,58.76H776.50" stroke-width="1.3"/>
</g>
<g font-family="'Liberation Sans', Arial, Helvetica, sans-serif" fill="#000" stroke="#000" stroke-width="0.25">
<g font-size="22.5px" text-anchor="middle">
<text x="96.50" y="520.6">300</text>
<text x="209.75" y="520.6">350</text>
<text x="323.00" y="520.6">400</text>
<text x="436.25" y="520.6">450</text>
<text x="549.50" y="520.6">500</text>
<text x="662.75" y="520.6">550</text>
<text x="776.00" y="520.6">600</text>
</g>
<g font-size="22.5px" text-anchor="end">
<text x="78.5" y="489.10">0.0</text>
<text x="78.5" y="383.39">0.2</text>
<text x="78.5" y="277.68">0.4</text>
<text x="78.5" y="171.97">0.6</text>
<text x="78.5" y="66.26">0.8</text>
</g>
<text x="437" y="565.8" font-size="26px" text-anchor="middle">wavelength (nm)</text>
<text transform="translate(24.5,238.6) rotate(-90)" font-size="26.3px" text-anchor="middle">absorbance</text>
</g>
<g id="inset" stroke="#111" stroke-width="0.72" fill="none">
<path d="M466.50,44.80V234.50H738.50V44.80"/>
<path d="M463.70,234.50H469.10M735.90,234.50H741.30M466.50,223.63H468.10M736.90,223.63H738.50M466.50,212.77H468.10M736.90,212.77H738.50M466.50,201.90H468.10M736.90,201.90H738.50M466.50,191.03H468.10M736.90,191.03H738.50M463.70,180.16H469.10M735.90,180.16H741.30M466.50,169.30H468.10M736.90,169.30H738.50M466.50,158.43H468.10M736.90,158.43H738.50M466.50,147.56H468.10M736.90,147.56H738.50M466.50,136.70H468.10M736.90,136.70H738.50M463.70,125.83H469.10M735.90,125.83H741.30M466.50,114.96H468.10M736.90,114.96H738.50M466.50,104.10H468.10M736.90,104.10H738.50M466.50,93.23H468.10M736.90,93.23H738.50M466.50,82.36H468.10M736.90,82.36H738.50M463.70,71.49H469.10M735.90,71.49H741.30M466.50,60.63H468.10M736.90,60.63H738.50M466.50,49.76H468.10M736.90,49.76H738.50M473.50,232.10V237.30M488.22,232.90V234.50M502.94,232.90V234.50M517.66,232.90V234.50M532.38,232.90V234.50M547.10,232.10V237.30M561.82,232.90V234.50M576.54,232.90V234.50M591.26,232.90V234.50M605.98,232.90V234.50M620.70,232.10V237.30M635.42,232.90V234.50M650.14,232.90V234.50M664.86,232.90V234.50M679.58,232.90V234.50M694.30,232.10V237.30M709.02,232.90V234.50M723.74,232.90V234.50" stroke-width="0.7"/>
</g>
<g id="kinetics">
<polyline points="473.1,199.0 475.6,211.0 478.1,215.4 480.6,219.8 483.1,217.6 485.6,215.3 488.1,211.5 490.6,207.1 493.2,203.1 495.7,198.9 498.2,195.2 500.7,191.3 503.2,185.6 505.7,181.9 508.2,178.6 510.7,175.1 513.2,171.2 515.7,166.8 518.2,163.1 520.7,159.9 523.2,156.8 525.7,153.3 528.2,150.5 530.8,146.5 533.3,142.9 535.8,140.2 538.3,137.0 540.8,134.8 543.3,132.0 545.8,129.7 548.3,127.1 550.8,123.8 553.3,121.5 555.8,118.9 558.3,117.0 560.8,114.9 563.3,112.4 565.8,111.0 568.4,108.6 570.9,106.9 573.4,105.8 575.9,103.7 578.4,102.5 580.9,101.2 583.4,100.0 585.9,98.2 588.4,96.7 590.9,95.3 593.4,94.8 595.9,93.7 598.4,92.4 600.9,91.1 603.4,90.2 606.0,88.7 608.5,87.2 611.0,86.8 613.5,85.9 616.0,84.5 618.5,83.1 621.0,82.5 623.5,81.9 626.0,81.4 628.5,81.1 631.0,80.3 633.5,80.2 636.0,79.9 638.5,78.9 641.0,78.6 643.6,78.8 646.1,77.6 648.6,77.3 651.1,77.2 653.6,76.2 656.1,76.1 658.6,76.2 661.1,75.1 663.6,74.2 666.1,73.4 668.6,72.7 671.1,72.3 673.6,71.9 676.1,71.5 678.6,71.0 681.2,70.5 683.7,70.2 686.2,70.2 688.7,70.2 691.2,71.1 693.7,71.5 696.2,71.0 698.7,71.1 701.2,71.6 703.7,71.6 706.2,71.3 708.7,71.0 711.2,70.7 713.7,70.5 716.2,70.6 718.8,70.8 721.3,70.0 723.8,69.3 726.3,70.4 728.8,70.5 731.3,69.6 733.8,68.8 736.3,69.3" fill="none" stroke="#222" stroke-width="0.5"/>
<polyline points="473.1,170.9 475.6,132.2 478.1,113.3 480.6,103.1 483.1,95.0 485.6,90.4 488.1,87.4 490.6,85.2 493.2,84.1 495.7,84.0 498.2,84.8 500.7,85.7 503.2,86.5 505.7,87.2 508.2,87.8 510.7,89.3 513.2,89.5 515.7,91.0 518.2,91.7 520.7,92.2 523.2,93.5 525.7,93.7 528.2,94.9 530.8,95.2 533.3,95.9 535.8,96.8 538.3,97.8 540.8,97.6 543.3,98.9 545.8,98.9 548.3,99.2 550.8,100.2 553.3,100.8 555.8,102.4 558.3,102.8 560.8,103.3 563.3,103.7 565.8,104.7 568.4,105.7 570.9,106.5 573.4,106.7 575.9,107.7 578.4,108.0 580.9,108.9 583.4,108.7 585.9,109.0 588.4,110.2 590.9,110.4 593.4,111.1 595.9,111.5 598.4,111.5 600.9,112.2 603.4,112.4 606.0,113.3 608.5,113.4 611.0,113.8 613.5,114.5 616.0,114.1 618.5,115.0 621.0,115.2 623.5,115.4 626.0,116.7 628.5,116.5 631.0,117.6 633.5,117.5 636.0,118.4 638.5,118.7 641.0,118.6 643.6,119.5 646.1,119.0 648.6,119.5 651.1,120.1 653.6,120.1 656.1,120.5 658.6,120.9 661.1,121.3 663.6,121.4 666.1,121.8 668.6,122.1 671.1,121.6 673.6,122.8 676.1,123.0 678.6,123.5 681.2,123.8 683.7,123.7 686.2,124.1 688.7,124.1 691.2,125.1 693.7,124.8 696.2,125.2 698.7,125.7 701.2,126.0 703.7,126.4 706.2,126.3 708.7,126.5 711.2,127.0 713.7,127.1 716.2,127.7 718.8,127.6 721.3,128.8 723.8,128.8 726.3,128.5 728.8,128.9 731.3,129.3 733.8,129.5 736.3,129.5" fill="none" stroke="#000" stroke-width="0.7"/>
<g fill="#fff" stroke="#000" stroke-width="0.75">
<circle cx="473.1" cy="199.0" r="1.65"/>
<circle cx="475.6" cy="211.0" r="1.65"/>
<circle cx="478.1" cy="215.4" r="1.65"/>
<circle cx="480.6" cy="219.8" r="1.65"/>
<circle cx="483.1" cy="217.6" r="1.65"/>
<circle cx="485.6" cy="215.3" r="1.65"/>
<circle cx="488.1" cy="211.5" r="1.65"/>
<circle cx="490.6" cy="207.1" r="1.65"/>
<circle cx="493.2" cy="203.1" r="1.65"/>
<circle cx="495.7" cy="198.9" r="1.65"/>
<circle cx="498.2" cy="195.2" r="1.65"/>
<circle cx="500.7" cy="191.3" r="1.65"/>
<circle cx="503.2" cy="185.6" r="1.65"/>
<circle cx="505.7" cy="181.9" r="1.65"/>
<circle cx="508.2" cy="178.6" r="1.65"/>
<circle cx="510.7" cy="175.1" r="1.65"/>
<circle cx="513.2" cy="171.2" r="1.65"/>
<circle cx="515.7" cy="166.8" r="1.65"/>
<circle cx="518.2" cy="163.1" r="1.65"/>
<circle cx="520.7" cy="159.9" r="1.65"/>
<circle cx="523.2" cy="156.8" r="1.65"/>
<circle cx="525.7" cy="153.3" r="1.65"/>
<circle cx="528.2" cy="150.5" r="1.65"/>
<circle cx="530.8" cy="146.5" r="1.65"/>
<circle cx="533.3" cy="142.9" r="1.65"/>
<circle cx="535.8" cy="140.2" r="1.65"/>
<circle cx="538.3" cy="137.0" r="1.65"/>
<circle cx="540.8" cy="134.8" r="1.65"/>
<circle cx="543.3" cy="132.0" r="1.65"/>
<circle cx="545.8" cy="129.7" r="1.65"/>
<circle cx="548.3" cy="127.1" r="1.65"/>
<circle cx="550.8" cy="123.8" r="1.65"/>
<circle cx="553.3" cy="121.5" r="1.65"/>
<circle cx="555.8" cy="118.9" r="1.65"/>
<circle cx="558.3" cy="117.0" r="1.65"/>
<circle cx="560.8" cy="114.9" r="1.65"/>
<circle cx="563.3" cy="112.4" r="1.65"/>
<circle cx="565.8" cy="111.0" r="1.65"/>
<circle cx="568.4" cy="108.6" r="1.65"/>
<circle cx="570.9" cy="106.9" r="1.65"/>
<circle cx="573.4" cy="105.8" r="1.65"/>
<circle cx="575.9" cy="103.7" r="1.65"/>
<circle cx="578.4" cy="102.5" r="1.65"/>
<circle cx="580.9" cy="101.2" r="1.65"/>
<circle cx="583.4" cy="100.0" r="1.65"/>
<circle cx="585.9" cy="98.2" r="1.65"/>
<circle cx="588.4" cy="96.7" r="1.65"/>
<circle cx="590.9" cy="95.3" r="1.65"/>
<circle cx="593.4" cy="94.8" r="1.65"/>
<circle cx="595.9" cy="93.7" r="1.65"/>
<circle cx="598.4" cy="92.4" r="1.65"/>
<circle cx="600.9" cy="91.1" r="1.65"/>
<circle cx="603.4" cy="90.2" r="1.65"/>
<circle cx="606.0" cy="88.7" r="1.65"/>
<circle cx="608.5" cy="87.2" r="1.65"/>
<circle cx="611.0" cy="86.8" r="1.65"/>
<circle cx="613.5" cy="85.9" r="1.65"/>
<circle cx="616.0" cy="84.5" r="1.65"/>
<circle cx="618.5" cy="83.1" r="1.65"/>
<circle cx="621.0" cy="82.5" r="1.65"/>
<circle cx="623.5" cy="81.9" r="1.65"/>
<circle cx="626.0" cy="81.4" r="1.65"/>
<circle cx="628.5" cy="81.1" r="1.65"/>
<circle cx="631.0" cy="80.3" r="1.65"/>
<circle cx="633.5" cy="80.2" r="1.65"/>
<circle cx="636.0" cy="79.9" r="1.65"/>
<circle cx="638.5" cy="78.9" r="1.65"/>
<circle cx="641.0" cy="78.6" r="1.65"/>
<circle cx="643.6" cy="78.8" r="1.65"/>
<circle cx="646.1" cy="77.6" r="1.65"/>
<circle cx="648.6" cy="77.3" r="1.65"/>
<circle cx="651.1" cy="77.2" r="1.65"/>
<circle cx="653.6" cy="76.2" r="1.65"/>
<circle cx="656.1" cy="76.1" r="1.65"/>
<circle cx="658.6" cy="76.2" r="1.65"/>
<circle cx="661.1" cy="75.1" r="1.65"/>
<circle cx="663.6" cy="74.2" r="1.65"/>
<circle cx="666.1" cy="73.4" r="1.65"/>
<circle cx="668.6" cy="72.7" r="1.65"/>
<circle cx="671.1" cy="72.3" r="1.65"/>
<circle cx="673.6" cy="71.9" r="1.65"/>
<circle cx="676.1" cy="71.5" r="1.65"/>
<circle cx="678.6" cy="71.0" r="1.65"/>
<circle cx="681.2" cy="70.5" r="1.65"/>
<circle cx="683.7" cy="70.2" r="1.65"/>
<circle cx="686.2" cy="70.2" r="1.65"/>
<circle cx="688.7" cy="70.2" r="1.65"/>
<circle cx="691.2" cy="71.1" r="1.65"/>
<circle cx="693.7" cy="71.5" r="1.65"/>
<circle cx="696.2" cy="71.0" r="1.65"/>
<circle cx="698.7" cy="71.1" r="1.65"/>
<circle cx="701.2" cy="71.6" r="1.65"/>
<circle cx="703.7" cy="71.6" r="1.65"/>
<circle cx="706.2" cy="71.3" r="1.65"/>
<circle cx="708.7" cy="71.0" r="1.65"/>
<circle cx="711.2" cy="70.7" r="1.65"/>
<circle cx="713.7" cy="70.5" r="1.65"/>
<circle cx="716.2" cy="70.6" r="1.65"/>
<circle cx="718.8" cy="70.8" r="1.65"/>
<circle cx="721.3" cy="70.0" r="1.65"/>
<circle cx="723.8" cy="69.3" r="1.65"/>
<circle cx="726.3" cy="70.4" r="1.65"/>
<circle cx="728.8" cy="70.5" r="1.65"/>
<circle cx="731.3" cy="69.6" r="1.65"/>
<circle cx="733.8" cy="68.8" r="1.65"/>
<circle cx="736.3" cy="69.3" r="1.65"/>
</g><g fill="#000">
<circle cx="473.1" cy="170.9" r="1.95"/>
<circle cx="475.6" cy="132.2" r="1.95"/>
<circle cx="478.1" cy="113.3" r="1.95"/>
<circle cx="480.6" cy="103.1" r="1.95"/>
<circle cx="483.1" cy="95.0" r="1.95"/>
<circle cx="485.6" cy="90.4" r="1.95"/>
<circle cx="488.1" cy="87.4" r="1.95"/>
<circle cx="490.6" cy="85.2" r="1.95"/>
<circle cx="493.2" cy="84.1" r="1.95"/>
<circle cx="495.7" cy="84.0" r="1.95"/>
<circle cx="498.2" cy="84.8" r="1.95"/>
<circle cx="500.7" cy="85.7" r="1.95"/>
<circle cx="503.2" cy="86.5" r="1.95"/>
<circle cx="505.7" cy="87.2" r="1.95"/>
<circle cx="508.2" cy="87.8" r="1.95"/>
<circle cx="510.7" cy="89.3" r="1.95"/>
<circle cx="513.2" cy="89.5" r="1.95"/>
<circle cx="515.7" cy="91.0" r="1.95"/>
<circle cx="518.2" cy="91.7" r="1.95"/>
<circle cx="520.7" cy="92.2" r="1.95"/>
<circle cx="523.2" cy="93.5" r="1.95"/>
<circle cx="525.7" cy="93.7" r="1.95"/>
<circle cx="528.2" cy="94.9" r="1.95"/>
<circle cx="530.8" cy="95.2" r="1.95"/>
<circle cx="533.3" cy="95.9" r="1.95"/>
<circle cx="535.8" cy="96.8" r="1.95"/>
<circle cx="538.3" cy="97.8" r="1.95"/>
<circle cx="540.8" cy="97.6" r="1.95"/>
<circle cx="543.3" cy="98.9" r="1.95"/>
<circle cx="545.8" cy="98.9" r="1.95"/>
<circle cx="548.3" cy="99.2" r="1.95"/>
<circle cx="550.8" cy="100.2" r="1.95"/>
<circle cx="553.3" cy="100.8" r="1.95"/>
<circle cx="555.8" cy="102.4" r="1.95"/>
<circle cx="558.3" cy="102.8" r="1.95"/>
<circle cx="560.8" cy="103.3" r="1.95"/>
<circle cx="563.3" cy="103.7" r="1.95"/>
<circle cx="565.8" cy="104.7" r="1.95"/>
<circle cx="568.4" cy="105.7" r="1.95"/>
<circle cx="570.9" cy="106.5" r="1.95"/>
<circle cx="573.4" cy="106.7" r="1.95"/>
<circle cx="575.9" cy="107.7" r="1.95"/>
<circle cx="578.4" cy="108.0" r="1.95"/>
<circle cx="580.9" cy="108.9" r="1.95"/>
<circle cx="583.4" cy="108.7" r="1.95"/>
<circle cx="585.9" cy="109.0" r="1.95"/>
<circle cx="588.4" cy="110.2" r="1.95"/>
<circle cx="590.9" cy="110.4" r="1.95"/>
<circle cx="593.4" cy="111.1" r="1.95"/>
<circle cx="595.9" cy="111.5" r="1.95"/>
<circle cx="598.4" cy="111.5" r="1.95"/>
<circle cx="600.9" cy="112.2" r="1.95"/>
<circle cx="603.4" cy="112.4" r="1.95"/>
<circle cx="606.0" cy="113.3" r="1.95"/>
<circle cx="608.5" cy="113.4" r="1.95"/>
<circle cx="611.0" cy="113.8" r="1.95"/>
<circle cx="613.5" cy="114.5" r="1.95"/>
<circle cx="616.0" cy="114.1" r="1.95"/>
<circle cx="618.5" cy="115.0" r="1.95"/>
<circle cx="621.0" cy="115.2" r="1.95"/>
<circle cx="623.5" cy="115.4" r="1.95"/>
<circle cx="626.0" cy="116.7" r="1.95"/>
<circle cx="628.5" cy="116.5" r="1.95"/>
<circle cx="631.0" cy="117.6" r="1.95"/>
<circle cx="633.5" cy="117.5" r="1.95"/>
<circle cx="636.0" cy="118.4" r="1.95"/>
<circle cx="638.5" cy="118.7" r="1.95"/>
<circle cx="641.0" cy="118.6" r="1.95"/>
<circle cx="643.6" cy="119.5" r="1.95"/>
<circle cx="646.1" cy="119.0" r="1.95"/>
<circle cx="648.6" cy="119.5" r="1.95"/>
<circle cx="651.1" cy="120.1" r="1.95"/>
<circle cx="653.6" cy="120.1" r="1.95"/>
<circle cx="656.1" cy="120.5" r="1.95"/>
<circle cx="658.6" cy="120.9" r="1.95"/>
<circle cx="661.1" cy="121.3" r="1.95"/>
<circle cx="663.6" cy="121.4" r="1.95"/>
<circle cx="666.1" cy="121.8" r="1.95"/>
<circle cx="668.6" cy="122.1" r="1.95"/>
<circle cx="671.1" cy="121.6" r="1.95"/>
<circle cx="673.6" cy="122.8" r="1.95"/>
<circle cx="676.1" cy="123.0" r="1.95"/>
<circle cx="678.6" cy="123.5" r="1.95"/>
<circle cx="681.2" cy="123.8" r="1.95"/>
<circle cx="683.7" cy="123.7" r="1.95"/>
<circle cx="686.2" cy="124.1" r="1.95"/>
<circle cx="688.7" cy="124.1" r="1.95"/>
<circle cx="691.2" cy="125.1" r="1.95"/>
<circle cx="693.7" cy="124.8" r="1.95"/>
<circle cx="696.2" cy="125.2" r="1.95"/>
<circle cx="698.7" cy="125.7" r="1.95"/>
<circle cx="701.2" cy="126.0" r="1.95"/>
<circle cx="703.7" cy="126.4" r="1.95"/>
<circle cx="706.2" cy="126.3" r="1.95"/>
<circle cx="708.7" cy="126.5" r="1.95"/>
<circle cx="711.2" cy="127.0" r="1.95"/>
<circle cx="713.7" cy="127.1" r="1.95"/>
<circle cx="716.2" cy="127.7" r="1.95"/>
<circle cx="718.8" cy="127.6" r="1.95"/>
<circle cx="721.3" cy="128.8" r="1.95"/>
<circle cx="723.8" cy="128.8" r="1.95"/>
<circle cx="726.3" cy="128.5" r="1.95"/>
<circle cx="728.8" cy="128.9" r="1.95"/>
<circle cx="731.3" cy="129.3" r="1.95"/>
<circle cx="733.8" cy="129.5" r="1.95"/>
<circle cx="736.3" cy="129.5" r="1.95"/>
</g></g>
<g font-family="'Liberation Sans', Arial, Helvetica, sans-serif" fill="#000">
<g font-size="13px" text-anchor="end">
<text x="457.4" y="238.80">0.72</text>
<text x="457.4" y="184.47">0.76</text>
<text x="457.4" y="130.14">0.80</text>
<text x="457.4" y="75.81">0.84</text>
</g><g font-size="13px" text-anchor="start">
<text x="747.5" y="238.80">0.30</text>
<text x="747.5" y="184.47">0.34</text>
<text x="747.5" y="130.14">0.38</text>
<text x="747.5" y="75.81">0.42</text>
</g><g font-size="12.8px" text-anchor="middle">
<text x="473.70" y="255.8">0</text>
<text x="547.30" y="255.8">50</text>
<text x="620.90" y="255.8">100</text>
<text x="694.50" y="255.8">150</text>
</g>
<text x="602.5" y="289.2" font-size="15.5px" text-anchor="middle">time (s)</text>
<text x="699.7" y="56.4" font-size="15.2px" text-anchor="middle">408 nm</text>
<text x="698.3" y="148.9" font-size="15.2px" text-anchor="middle">424 nm</text>
</g>
</svg>
</body>
</html>
